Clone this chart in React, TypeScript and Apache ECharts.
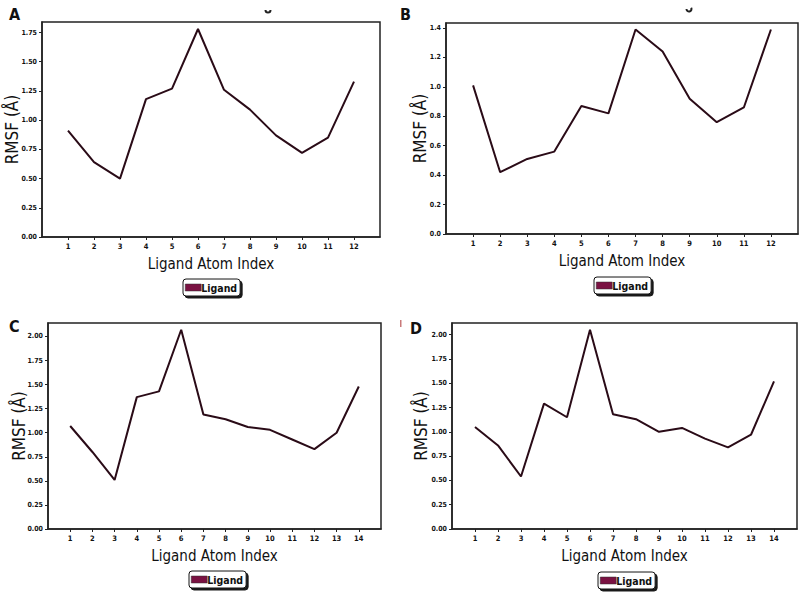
import React, { useEffect, useRef } from "react";
import * as echarts from "echarts";

const atomIndex12 = [1, 2, 3, 4, 5, 6, 7, 8, 9, 10, 11, 12];
const atomIndex14 = [1, 2, 3, 4, 5, 6, 7, 8, 9, 10, 11, 12, 13, 14];
const rmsfA = [0.91, 0.64, 0.5, 1.18, 1.27, 1.78, 1.26, 1.09, 0.87, 0.72, 0.85, 1.33];
const rmsfB = [1.01, 0.42, 0.51, 0.56, 0.87, 0.82, 1.39, 1.24, 0.92, 0.76, 0.86, 1.39];
const rmsfC = [1.07, 0.8, 0.51, 1.37, 1.43, 2.07, 1.19, 1.14, 1.06, 1.03, 0.93, 0.83, 1.0, 1.48];
const rmsfD = [1.05, 0.86, 0.54, 1.29, 1.15, 2.05, 1.18, 1.13, 1.0, 1.04, 0.93, 0.84, 0.97, 1.52];
const yTicksA = [0, 0.25, 0.5, 0.75, 1.0, 1.25, 1.5, 1.75];
const yTicksB = [0, 0.2, 0.4, 0.6, 0.8, 1.0, 1.2, 1.4];
const yTicksCD = [0, 0.25, 0.5, 0.75, 1.0, 1.25, 1.5, 1.75, 2.0];
const panelLetters = ["A", "B", "C", "D"];
const seriesName = "Ligand";
const xTitle = "Ligand Atom Index";
const yTitle = "RMSF (Å)";

const FONT = "'DejaVu Sans Condensed', 'DejaVu Sans', sans-serif";
const LINE = "#2a0b17";
const SWATCH = "#7a1242";

export default function App() {
  const ref = useRef<HTMLDivElement>(null);
  useEffect(() => {
    if (!ref.current) return;
    const chart = echarts.init(ref.current, null, { renderer: "svg" });

    const panels = [
      { x: atomIndex12, y: rmsfA, ticks: yTicksA, dec: 2, xmax: 13, ymax: 1.84, grid: { left: 42, top: 22, width: 338, height: 215 }, legend: { left: 183, top: 279 }, nameGapY: 21.5 },
      { x: atomIndex12, y: rmsfB, ticks: yTicksB, dec: 1, xmax: 13, ymax: 1.434, grid: { left: 446, top: 23, width: 352, height: 211 }, legend: { left: 594, top: 277 }, nameGapY: 18 },
      { x: atomIndex14, y: rmsfC, ticks: yTicksCD, dec: 2, xmax: 15, ymax: 2.14, grid: { left: 48, top: 323, width: 333, height: 206 }, legend: { left: 189, top: 571 }, nameGapY: 20.5 },
      { x: atomIndex14, y: rmsfD, ticks: yTicksCD, dec: 2, xmax: 15, ymax: 2.12, grid: { left: 452, top: 323, width: 345, height: 206 }, legend: { left: 598, top: 572 }, nameGapY: 23 },
    ];

    const option: any = {
      animation: false,
      backgroundColor: "#ffffff",
      grid: panels.map((p) => ({
        ...p.grid,
        show: true,
        borderColor: "#222",
        borderWidth: 1.5,
        backgroundColor: "transparent",
        containLabel: false,
        outerBoundsMode: "none",
      })),
      xAxis: panels.map((p, i) => ({
        type: "value",
        gridIndex: i,
        min: 0,
        max: p.xmax,
        interval: 1,
        name: xTitle,
        nameLocation: "middle",
        nameGap: 19,
        nameMoveOverlap: false,
        nameTextStyle: { fontFamily: FONT, fontSize: 15, color: "#111" },
        axisLine: { show: true, lineStyle: { color: "#222", width: 1.5 } },
        axisTick: { show: true, length: 3, customValues: p.x, lineStyle: { color: "#222" } },
        axisLabel: { customValues: p.x, fontFamily: FONT, fontSize: 7.5, fontWeight: "bold", color: "#111", margin: 5 },
        splitLine: { show: false },
      })),
      yAxis: panels.map((p, i) => ({
        type: "value",
        gridIndex: i,
        min: 0,
        max: p.ymax,
        name: yTitle,
        nameLocation: "middle",
        nameRotate: 90,
        nameGap: p.nameGapY,
        nameMoveOverlap: false,
        nameTextStyle: { fontFamily: FONT, fontSize: 17, color: "#111" },
        axisLine: { show: true, lineStyle: { color: "#222", width: 1.5 } },
        axisTick: { show: true, length: 3, customValues: p.ticks, lineStyle: { color: "#222" } },
        axisLabel: {
          customValues: p.ticks,
          fontFamily: FONT,
          fontSize: 7,
          fontWeight: "bold",
          color: "#111",
          margin: 5,
          formatter: (v: number) => v.toFixed(p.dec),
        },
        splitLine: { show: false },
      })),
      legend: panels.map((p) => ({
        ...p.legend,
        data: [{ name: seriesName, itemStyle: { color: SWATCH, borderColor: "#333", borderWidth: 0.5 } }],
        icon: "rect",
        itemWidth: 16,
        itemHeight: 7,
        itemGap: 0,
        padding: [3, 3, 3, 2],
        backgroundColor: "#fff",
        borderColor: "#111",
        borderWidth: 1,
        borderRadius: 3,
        shadowColor: "rgba(0,0,0,0.9)",
        shadowOffsetX: 2,
        shadowOffsetY: 2,
        shadowBlur: 0,
        selectedMode: false,
        textStyle: { fontFamily: FONT, fontSize: 10.5, fontWeight: "bold", color: "#111", padding: [0, 0, 0, -5] },
      })),
      series: panels.map((p, i) => ({
        name: seriesName,
        type: "line",
        xAxisIndex: i,
        yAxisIndex: i,
        data: p.x.map((x, k) => [x, p.y[k]]),
        symbol: "none",
        lineStyle: { color: LINE, width: 2 },
        itemStyle: { color: SWATCH },
      })),
      graphic: [
        { type: "text", left: 9, top: 6, style: { text: panelLetters[0], fontFamily: FONT, fontSize: 16, fontWeight: "bold", fill: "#111" } },
        { type: "text", left: 400, top: 6, style: { text: panelLetters[1], fontFamily: FONT, fontSize: 16, fontWeight: "bold", fill: "#111" } },
        { type: "text", left: 9, top: 318, style: { text: panelLetters[2], fontFamily: FONT, fontSize: 16, fontWeight: "bold", fill: "#111" } },
        { type: "text", left: 410, top: 320, style: { text: panelLetters[3], fontFamily: FONT, fontSize: 16, fontWeight: "bold", fill: "#111" } },
        { type: "arc", shape: { cx: 268, cy: 10, r: 2.5, startAngle: 0, endAngle: Math.PI }, style: { stroke: "#222", lineWidth: 2, fill: "none" } },
        { type: "arc", shape: { cx: 689, cy: 9, r: 2.5, startAngle: -0.5, endAngle: Math.PI }, style: { stroke: "#222", lineWidth: 2, fill: "none" } },
        { type: "rect", shape: { x: 400, y: 320, width: 1.5, height: 7 }, style: { fill: "#c97a7a" } },
      ],
    };
    chart.setOption(option);
    return () => chart.dispose();
  }, []);
  return <div ref={ref} style={{ position: "absolute", left: 0, top: 0, width: 808, height: 600 }} />;
}
